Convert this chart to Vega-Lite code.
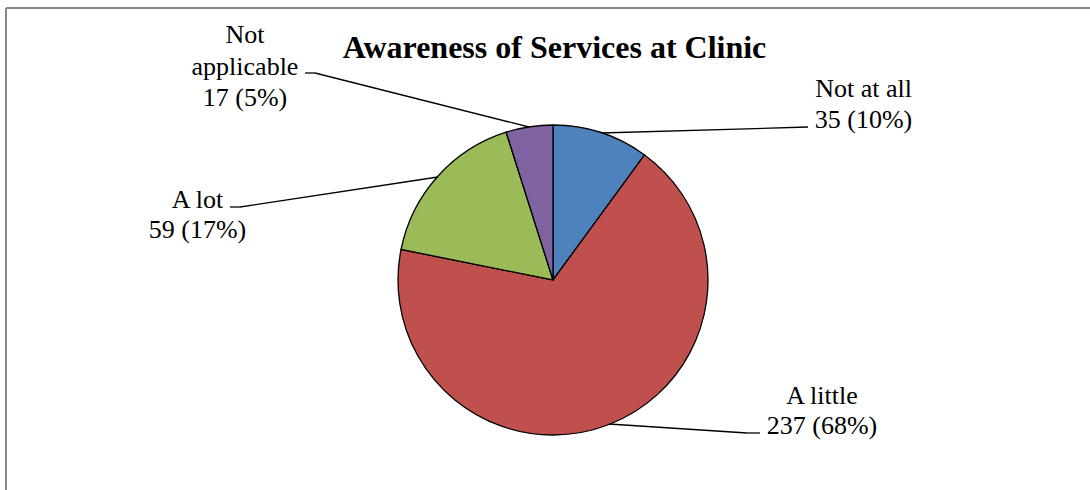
{
  "$schema": "https://vega.github.io/schema/vega-lite/v6.json",
  "width": 1084,
  "height": 482,
  "autosize": {"type": "none"},
  "padding": {"left": 6, "top": 8, "right": 0, "bottom": 0},
  "background": "white",
  "config": {"view": {"stroke": null}, "axis": {"disable": true}, "text": {"font": "Liberation Serif"}},
  "data": {"values": [
    {"category": "Not at all", "count": 35, "order": 1, "label": "Not at all\n35 (10%)"},
    {"category": "A little", "count": 237, "order": 2, "label": "A little\n237 (68%)"},
    {"category": "A lot", "count": 59, "order": 3, "label": "A lot\n59 (17%)"},
    {"category": "Not applicable", "count": 17, "order": 4, "label": "Not\napplicable\n17 (5%)"}
  ]},
  "layer": [
    {
      "mark": {"type": "arc", "outerRadius": 155, "stroke": "black", "strokeWidth": 1.3},
      "encoding": {
        "x": {"datum": 0, "type": "quantitative", "scale": {"domain": [-547, 537], "nice": false, "zero": false}, "axis": null},
        "y": {"datum": 0, "type": "quantitative", "scale": {"domain": [-210, 272], "nice": false, "zero": false}, "axis": null},
        "theta": {"field": "count", "type": "quantitative", "stack": true},
        "order": {"field": "order", "type": "quantitative"},
        "color": {"field": "category", "type": "nominal", "legend": null,
          "scale": {"domain": ["Not at all", "A little", "A lot", "Not applicable"], "range": ["#4F81BD", "#C0504D", "#9BBB59", "#8064A2"]}}
      }
    },
    {
      "transform": [{"filter": "datum.order == 1"}],
      "mark": {"type": "rule", "color": "#898989", "strokeWidth": 2},
      "encoding": {"x": {"datum": -547, "type": "quantitative"}}
    },
    {
      "transform": [{"filter": "datum.order == 1"}],
      "mark": {"type": "rule", "color": "#898989", "strokeWidth": 2},
      "encoding": {"y": {"datum": 272, "type": "quantitative"}}
    },
    {
      "transform": [{"filter": "datum.category == 'Not at all'"}],
      "mark": {"type": "rule", "color": "black", "strokeWidth": 1.3},
      "encoding": {"x": {"datum": 48, "type": "quantitative"}, "y": {"datum": 147, "type": "quantitative"}, "x2": {"datum": 255}, "y2": {"datum": 153}}
    },
    {
      "transform": [{"filter": "datum.category == 'A little'"}],
      "mark": {"type": "rule", "color": "black", "strokeWidth": 1.3},
      "encoding": {"x": {"datum": 56, "type": "quantitative"}, "y": {"datum": -144, "type": "quantitative"}, "x2": {"datum": 194}, "y2": {"datum": -153}}
    },
    {
      "transform": [{"filter": "datum.category == 'A little'"}],
      "mark": {"type": "rule", "color": "black", "strokeWidth": 1.3},
      "encoding": {"x": {"datum": 194, "type": "quantitative"}, "y": {"datum": -153, "type": "quantitative"}, "x2": {"datum": 207}, "y2": {"datum": -153}}
    },
    {
      "transform": [{"filter": "datum.category == 'A lot'"}],
      "mark": {"type": "rule", "color": "black", "strokeWidth": 1.3},
      "encoding": {"x": {"datum": -115, "type": "quantitative"}, "y": {"datum": 103, "type": "quantitative"}, "x2": {"datum": -313}, "y2": {"datum": 73}}
    },
    {
      "transform": [{"filter": "datum.category == 'A lot'"}],
      "mark": {"type": "rule", "color": "black", "strokeWidth": 1.3},
      "encoding": {"x": {"datum": -313, "type": "quantitative"}, "y": {"datum": 73, "type": "quantitative"}, "x2": {"datum": -323}, "y2": {"datum": 73}}
    },
    {
      "transform": [{"filter": "datum.category == 'Not applicable'"}],
      "mark": {"type": "rule", "color": "black", "strokeWidth": 1.3},
      "encoding": {"x": {"datum": -24, "type": "quantitative"}, "y": {"datum": 153, "type": "quantitative"}, "x2": {"datum": -238}, "y2": {"datum": 207}}
    },
    {
      "transform": [{"filter": "datum.category == 'Not applicable'"}],
      "mark": {"type": "rule", "color": "black", "strokeWidth": 1.3},
      "encoding": {"x": {"datum": -238, "type": "quantitative"}, "y": {"datum": 207, "type": "quantitative"}, "x2": {"datum": -248}, "y2": {"datum": 207}}
    },
    {
      "transform": [{"filter": "datum.category == 'Not at all'"}],
      "mark": {"type": "text", "fontSize": 26, "lineHeight": 31, "lineBreak": "\n", "align": "center", "baseline": "alphabetic", "color": "black"},
      "encoding": {"x": {"datum": 310.5, "type": "quantitative"}, "y": {"datum": 183, "type": "quantitative"}, "text": {"field": "label"}}
    },
    {
      "transform": [{"filter": "datum.category == 'A little'"}],
      "mark": {"type": "text", "fontSize": 26, "lineHeight": 30, "lineBreak": "\n", "align": "center", "baseline": "alphabetic", "color": "black"},
      "encoding": {"x": {"datum": 269, "type": "quantitative"}, "y": {"datum": -124, "type": "quantitative"}, "text": {"field": "label"}}
    },
    {
      "transform": [{"filter": "datum.category == 'A lot'"}],
      "mark": {"type": "text", "fontSize": 26, "lineHeight": 30, "lineBreak": "\n", "align": "center", "baseline": "alphabetic", "color": "black"},
      "encoding": {"x": {"datum": -355.5, "type": "quantitative"}, "y": {"datum": 72, "type": "quantitative"}, "text": {"field": "label"}}
    },
    {
      "transform": [{"filter": "datum.category == 'Not applicable'"}],
      "mark": {"type": "text", "fontSize": 26, "lineHeight": 31.5, "lineBreak": "\n", "align": "center", "baseline": "alphabetic", "color": "black"},
      "encoding": {"x": {"datum": -308, "type": "quantitative"}, "y": {"datum": 237, "type": "quantitative"}, "text": {"field": "label"}}
    },
    {
      "transform": [{"filter": "datum.order == 1"}],
      "mark": {"type": "text", "fontSize": 32, "fontWeight": "bold", "align": "center", "baseline": "alphabetic", "color": "black"},
      "encoding": {"x": {"datum": 1.5, "type": "quantitative"}, "y": {"datum": 222, "type": "quantitative"}, "text": {"value": "Awareness of Services at Clinic"}}
    }
  ]
}
